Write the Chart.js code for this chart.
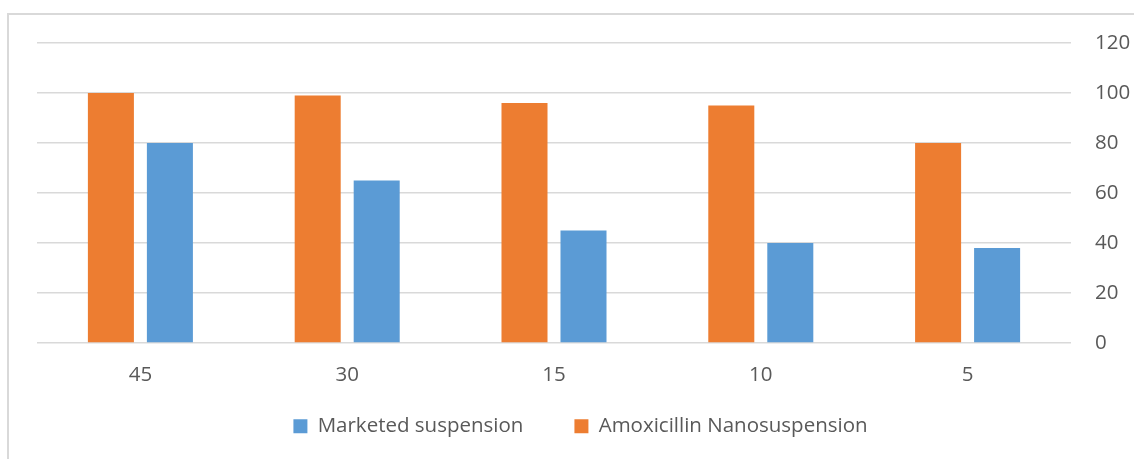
<!DOCTYPE html>
<html>
<head>
<meta charset="utf-8">
<script src="https://cdn.jsdelivr.net/npm/chart.js@4.4.1/dist/chart.umd.min.js"></script>
<style>
  html, body { margin: 0; padding: 0; background: #ffffff; overflow: hidden; }
  #wrap { position: relative; width: 1134px; height: 459px; }
  #frame {
    position: absolute; left: 7px; top: 13px; width: 1200px; height: 500px;
    border: 2px solid #d9d9d9; box-sizing: border-box;
  }
  #c { position: absolute; left: 0; top: 0; }
</style>
</head>
<body>
<div id="wrap">
  <div id="frame"></div>
  <canvas id="c" width="1134" height="459"></canvas>
</div>
<script>
// Time points (category axis) and percentage values per formulation
const categories = ['45', '30', '15', '10', '5'];
const nanosuspension = [100, 99, 96, 95, 80];
const marketed = [80, 65, 45, 40, 38];
const yTicks = [0, 20, 40, 60, 80, 100, 120];

const FONT = "'Open Sans', 'Noto Sans', sans-serif";
const FONT_SIZE = 20.5;
const TEXT = '#595959';
const GRID = '#d9d9d9';

const LEGEND_BOX_HEIGHT = 66;   // space reserved below the axis labels
const LEGEND_SHIFT_Y = -28;     // lift the legend row up into that space
const LEGEND_SHIFT_X = -5;

// Keeps the legend to a fixed height and nudges its row,
// so wide item spacing does not push the plot area up.
const legendFit = {
  id: 'legendFit',
  afterInit(chart) {
    const lg = chart.legend;
    if (!lg) return;
    const orig = lg.fit.bind(lg);
    lg.fit = function () { orig(); this.height = LEGEND_BOX_HEIGHT; };
  },
  afterLayout(chart) {
    const lg = chart.legend;
    if (!lg) return;
    // move only the leading edges so the legend's clip box still covers its row
    lg.top += LEGEND_SHIFT_Y;
    lg.left += LEGEND_SHIFT_X;
    lg.right += LEGEND_SHIFT_X;
  }
};

new Chart(document.getElementById('c'), {
  type: 'bar',
  data: {
    labels: categories,
    datasets: [
      {
        label: 'Amoxicillin Nanosuspension',
        data: nanosuspension,
        backgroundColor: '#ed7d31',
        barPercentage: 0.78,
        categoryPercentage: 0.5706
      },
      {
        label: 'Marketed suspension',
        data: marketed,
        backgroundColor: '#5b9bd5',
        barPercentage: 0.78,
        categoryPercentage: 0.5706
      }
    ]
  },
  plugins: [legendFit],
  options: {
    responsive: false,
    animation: false,
    devicePixelRatio: 1,
    layout: { padding: { left: 37, top: 43, right: 0, bottom: 0 } },
    plugins: {
      tooltip: { enabled: false },
      legend: {
        position: 'bottom',
        reverse: true,
        labels: {
          boxWidth: 14,
          boxHeight: 14,
          padding: 51,
          color: TEXT,
          font: { family: FONT, size: FONT_SIZE }
        }
      }
    },
    scales: {
      x: {
        grid: { display: false },
        border: { display: false },
        ticks: { color: TEXT, font: { family: FONT, size: FONT_SIZE }, padding: 12 },
        afterFit: (s) => { s.height = 50; }
      },
      y: {
        position: 'right',
        min: 0,
        max: 120,
        afterBuildTicks: (s) => { s.ticks = yTicks.map(v => ({ value: v })); },
        grid: { color: GRID, lineWidth: 1.5, drawTicks: false },
        border: { display: false },
        ticks: { color: TEXT, font: { family: FONT, size: FONT_SIZE }, padding: 24 },
        afterFit: (s) => { s.width = 63; }
      }
    }
  }
});
</script>
</body>
</html>
